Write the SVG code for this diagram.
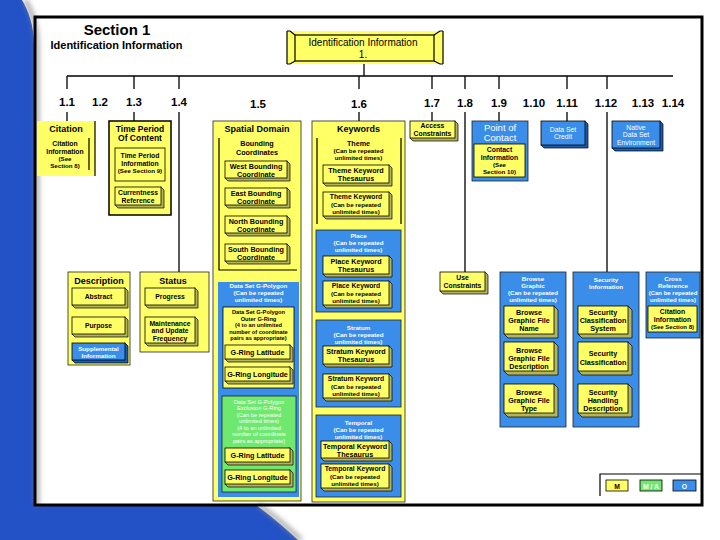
<svg xmlns="http://www.w3.org/2000/svg" width="720" height="540" viewBox="0 0 720 540">
<defs>
<filter id="blur" x="-20%" y="-20%" width="140%" height="140%"><feGaussianBlur stdDeviation="2.5"/></filter>
</defs>
<style>
.y{fill:#FFFF66}
.b{fill:#3A8EEA}
.g{fill:#6EE86E}
.bx{stroke:#222;stroke-width:0.8}
.ln{stroke:#000;stroke-width:1.2;fill:none}
.sy{fill:#B4B45A;stroke:#000;stroke-width:0.7}
.sb{fill:#1E5CB0;stroke:#000;stroke-width:0.7}
.fy{fill:#FFFF66;stroke:#000;stroke-width:0.8}
.fb{fill:#3A8EEA;stroke:#000;stroke-width:0.8}
.c{stroke:#000;stroke-width:1.3;fill:none}
text{font-family:"Liberation Sans",Arial,Helvetica,sans-serif;font-weight:bold;text-anchor:middle;fill:#000}
.s9{font-size:9px}
.s75{font-size:7.2px}
.s7{font-size:6.8px}
.s65{font-size:6.2px}
.s6{font-size:5.7px}
.w{fill:#fff}
.nw{font-weight:normal}
</style>
<g id="background">
<rect width="720" height="540" fill="#2352C6"/>
<path d="M22,0 H720 V540 H298 C285,528 270,515 256,505 H34 V45 C34,25 28,10 22,0 Z" fill="#fff"/>
<path d="M25,0 C31,10 37,25 37,45 V505 M259,505 C273,515 288,528 301,540" stroke="#8a8a8a" stroke-width="5" fill="none" filter="url(#blur)" opacity="0.7"/>
<rect x="35" y="17" width="667" height="488" fill="none" stroke="#000" stroke-width="3"/>
</g>
<g id="title">
<text x="117" y="35" style="font-size:15px">Section 1</text>
<text x="116.5" y="49" style="font-size:11px">Identification Information</text>
</g>
<g id="connectors">
<path class="c" d="M364,61 V76 M67,76 H673 M67,76 V89 M134,76 V89 M179,76 V89 M359,76 V89 M432,76 V89 M465,76 V89 M499,76 V89 M567,76 V89 M607,76 V89"/>
<path class="c" d="M67,112 V121 M134,112 V121 M359,112 V121 M432,112 V121 M499,112 V121 M567,112 V121 M179,112 V272 M465,112 V272 M607,112 V272"/>
</g>
<g id="labels" style="font-size:11.5px">
<text x="67" y="106">1.1</text>
<text x="100" y="106">1.2</text>
<text x="134" y="106">1.3</text>
<text x="179" y="106">1.4</text>
<text x="258" y="107.5">1.5</text>
<text x="359" y="107.5">1.6</text>
<text x="432" y="106.5">1.7</text>
<text x="465" y="106.5">1.8</text>
<text x="499" y="106.5">1.9</text>
<text x="534" y="106.5">1.10</text>
<text x="567" y="106.5">1.11</text>
<text x="606" y="106.5">1.12</text>
<text x="643" y="106.5">1.13</text>
<text x="673" y="106.5">1.14</text>
</g>
<g id="n1">
<rect x="287" y="31" width="156" height="33" class="y"/>
<path class="ln" d="M287,31 V64 M443,31 V64 M287,31 h3 l5,4 M287,64 h3 l5,-3 M443,31 h-3 l-6,4 M443,64 h-3 l-6,-3"/>
<rect x="295" y="35" width="139" height="26" class="y" stroke="#000" stroke-width="1.2"/>
<text x="363" y="46" class="nw" style="font-size:10px">Identification Information</text>
<text x="363" y="57.5" class="nw" style="font-size:10px">1.</text>
</g>
<g id="n1_1">
<rect x="37" y="121" width="58" height="55" class="y"/>
<path class="ln" d="M95,121 V176 M89,138 V170"/>
<text x="66" y="132" class="s9">Citation</text>
<text x="65" y="146" class="s7">Citation</text>
<text x="65" y="153.5" class="s7">Information</text>
<text x="65" y="160.5" class="s65">(See</text>
<text x="65" y="167.5" class="s65">Section 8)</text>
</g>
<g id="n1_3">
<rect x="109" y="121" width="62" height="94" class="y" stroke="#000" stroke-width="1.5"/>
<text x="140" y="131.5" style="font-size:8.5px">Time Period</text>
<text x="140" y="141" style="font-size:8.5px">Of Content</text>
<rect x="115" y="148" width="50" height="33" class="fy"/>
<text x="140" y="158" class="s7">Time Period</text>
<text x="140" y="165.5" class="s7">Information</text>
<text x="140" y="173" class="s65">(See Section 9)</text>
<path class="sy" d="M161,187 l3,3 v18 h-46 l-3,-3 z"/>
<rect x="115" y="187" width="46" height="18" class="fy"/>
<text x="138" y="195" class="s7">Currentness</text>
<text x="138" y="203" class="s7">Reference</text>
</g>
<g id="n1_5">
<rect x="213" y="121" width="88" height="380" class="y bx"/>
<text x="257" y="132" class="s9">Spatial Domain</text>
<path class="ln" d="M219,138 V270 H297"/>
<text x="257" y="146" class="s75">Bounding</text>
<text x="257" y="155" class="s75">Coordinates</text>
<path class="sy" d="M287,161 l3,3 v17 h-62 l-3,-3 z"/>
<rect x="225" y="161" width="62" height="17" class="fy"/>
<text x="256" y="168.5" class="s75">West Bounding</text>
<text x="256" y="176.5" class="s75">Coordinate</text>
<path class="sy" d="M287,188 l3,3 v17 h-62 l-3,-3 z"/>
<rect x="225" y="188" width="62" height="17" class="fy"/>
<text x="256" y="195.5" class="s75">East Bounding</text>
<text x="256" y="203.5" class="s75">Coordinate</text>
<path class="sy" d="M287,216 l3,3 v17 h-62 l-3,-3 z"/>
<rect x="225" y="216" width="62" height="17" class="fy"/>
<text x="256" y="223.5" class="s75">North Bounding</text>
<text x="256" y="231.5" class="s75">Coordinate</text>
<path class="sy" d="M287,244 l3,3 v17 h-62 l-3,-3 z"/>
<rect x="225" y="244" width="62" height="17" class="fy"/>
<text x="256" y="251.5" class="s75">South Bounding</text>
<text x="256" y="259.5" class="s75">Coordinate</text>
</g>
<g id="gpolygon">
<rect x="218" y="282" width="81" height="215" class="b"/>
<text x="258.5" y="288" class="s65 w">Data Set G-Polygon</text>
<text x="258.5" y="295" class="s65 w">(Can be repeated</text>
<text x="258.5" y="302" class="s65 w">unlimited times)</text>
</g>
<g id="outer_gring">
<rect x="223" y="307" width="71" height="81" class="fy"/>
<text x="258.5" y="314" class="s6">Data Set G-Polygon</text>
<text x="258.5" y="320.5" class="s6">Outer G-Ring</text>
<text x="258.5" y="327" class="s6">(4 to an unlimited</text>
<text x="258.5" y="333.5" class="s6">number of coordinate</text>
<text x="258.5" y="340" class="s6">pairs as appropriate)</text>
<path class="sy" d="M290,345 l3,3 v14 h-65 l-3,-3 z"/>
<rect x="225" y="345" width="65" height="14" class="fy"/>
<text x="257.5" y="354.5" class="s75">G-Ring Latitude</text>
<path class="sy" d="M290,367 l3,3 v14 h-65 l-3,-3 z"/>
<rect x="225" y="367" width="65" height="14" class="fy"/>
<text x="257.5" y="376.5" class="s75">G-Ring Longitude</text>
</g>
<g id="exclusion_gring">
<rect x="222" y="396" width="74" height="96" class="g bx"/>
<text x="259" y="403.5" class="s6 w nw">Data Set G-Polygon</text>
<text x="259" y="410" class="s6 w nw">Exclusion G-Ring</text>
<text x="259" y="416.5" class="s6 w nw">(Can be repeated</text>
<text x="259" y="423" class="s6 w nw">unlimited times)</text>
<text x="259" y="429.5" class="s6 w nw">(4 to an unlimited</text>
<text x="259" y="436" class="s6 w nw">number of coordinate</text>
<text x="259" y="442.5" class="s6 w nw">pairs as appropriate)</text>
<path class="sy" d="M290,448 l3,3 v14 h-65 l-3,-3 z"/>
<rect x="225" y="448" width="65" height="14" class="fy"/>
<text x="257.5" y="457.5" class="s75">G-Ring Latitude</text>
<path class="sy" d="M290,470 l3,3 v14 h-65 l-3,-3 z"/>
<rect x="225" y="470" width="65" height="14" class="fy"/>
<text x="257.5" y="479.5" class="s75">G-Ring Longitude</text>
</g>
<g id="n1_6">
<rect x="312" y="121" width="93" height="381" class="y bx"/>
<text x="358.5" y="132" class="s9">Keywords</text>
<path class="ln" d="M317,138 V224 M401,138 V224"/>
<text x="358.5" y="145.5" class="s75">Theme</text>
<text x="358.5" y="152.5" class="s65">(Can be repeated</text>
<text x="358.5" y="159.5" class="s65">unlimited times)</text>
<path class="sy" d="M389,165 l3,3 v18 h-66 l-3,-3 z"/>
<rect x="323" y="165" width="66" height="18" class="fy"/>
<text x="356" y="172.5" class="s75">Theme Keyword</text>
<text x="356" y="180.5" class="s75">Thesaurus</text>
<path class="sy" d="M389,192 l3,3 v24 h-66 l-3,-3 z"/>
<rect x="323" y="192" width="66" height="24" class="fy"/>
<text x="356" y="199" class="s7">Theme Keyword</text>
<text x="356" y="206.5" class="s65">(Can be repeated</text>
<text x="356" y="213.5" class="s65">unlimited times)</text>
</g>
<g id="place">
<rect x="316" y="230" width="85" height="82" class="b bx"/>
<text x="358.5" y="238" class="s65 w">Place</text>
<text x="358.5" y="245" class="s65 w">(Can be repeated</text>
<text x="358.5" y="252" class="s65 w">unlimited times)</text>
<path class="sy" d="M389,256 l3,3 v18 h-66 l-3,-3 z"/>
<rect x="323" y="256" width="66" height="18" class="fy"/>
<text x="356" y="263.5" class="s75">Place Keyword</text>
<text x="356" y="271.5" class="s75">Thesaurus</text>
<path class="sy" d="M389,281 l3,3 v24 h-66 l-3,-3 z"/>
<rect x="323" y="281" width="66" height="24" class="fy"/>
<text x="356" y="288" class="s7">Place Keyword</text>
<text x="356" y="295.5" class="s65">(Can be repeated</text>
<text x="356" y="302.5" class="s65">unlimited times)</text>
</g>
<g id="stratum">
<rect x="316" y="320" width="85" height="87" class="b bx"/>
<text x="358.5" y="329.5" class="s65 w">Stratum</text>
<text x="358.5" y="336.5" class="s65 w">(Can be repeated</text>
<text x="358.5" y="343.5" class="s65 w">unlimited times)</text>
<path class="sy" d="M389,346 l3,3 v18 h-66 l-3,-3 z"/>
<rect x="323" y="346" width="66" height="18" class="fy"/>
<text x="356" y="353.5" class="s75">Stratum Keyword</text>
<text x="356" y="361.5" class="s75">Thesaurus</text>
<path class="sy" d="M389,374 l3,3 v24 h-66 l-3,-3 z"/>
<rect x="323" y="374" width="66" height="24" class="fy"/>
<text x="356" y="381" class="s7">Stratum Keyword</text>
<text x="356" y="388.5" class="s65">(Can be repeated</text>
<text x="356" y="395.5" class="s65">unlimited times)</text>
</g>
<g id="temporal">
<rect x="316" y="415" width="85" height="82" class="b bx"/>
<text x="358.5" y="424.5" class="s65 w">Temporal</text>
<text x="358.5" y="431.5" class="s65 w">(Can be repeated</text>
<text x="358.5" y="438.5" class="s65 w">unlimited times)</text>
<path class="sy" d="M389,441 l3,3 v17 h-68 l-3,-3 z"/>
<rect x="321" y="441" width="68" height="17" class="fy"/>
<text x="355" y="448.5" class="s75">Temporal Keyword</text>
<text x="355" y="456.5" class="s75">Thesaurus</text>
<path class="sy" d="M389,464 l3,3 v24 h-68 l-3,-3 z"/>
<rect x="321" y="464" width="68" height="24" class="fy"/>
<text x="355" y="471" class="s7">Temporal Keyword</text>
<text x="355" y="478.5" class="s65">(Can be repeated</text>
<text x="355" y="485.5" class="s65">unlimited times)</text>
</g>
<g id="n1_7">
<path class="sy" d="M455,121 l3,3 v17 h-45 l-3,-3 z"/>
<rect x="410" y="121" width="45" height="17" class="fy"/>
<text x="432.5" y="128" class="s7">Access</text>
<text x="432.5" y="135.5" class="s7">Constraints</text>
</g>
<g id="n1_9">
<rect x="472" y="121" width="56" height="60" class="b bx"/>
<text x="500" y="131" class="w nw" style="font-size:9.5px">Point of</text>
<text x="500" y="141" class="w nw" style="font-size:9.5px">Contact</text>
<rect x="474" y="144" width="51" height="33" class="fy"/>
<text x="499.5" y="152" class="s7">Contact</text>
<text x="499.5" y="159.5" class="s7">Information</text>
<text x="499.5" y="166.5" class="s65">(See</text>
<text x="499.5" y="173.5" class="s65">Section 10)</text>
</g>
<g id="n1_11">
<path class="sb" d="M585,121 l3,3 v24 h-44 l-3,-3 z"/>
<rect x="541" y="121" width="44" height="24" class="fb"/>
<text x="563" y="131.5" class="s7 w nw">Data Set</text>
<text x="563" y="139" class="s7 w nw">Credit</text>
</g>
<g id="n1_13">
<path class="sb" d="M660,121 l3,3 v27 h-48 l-3,-3 z"/>
<rect x="612" y="121" width="48" height="27" class="fb"/>
<text x="636" y="129.5" class="s7 w nw">Native</text>
<text x="636" y="137" class="s7 w nw">Data Set</text>
<text x="636" y="144.5" class="s7 w nw">Environment</text>
</g>
<g id="n1_2">
<rect x="68" y="272" width="62" height="93" class="y bx"/>
<text x="99" y="283.5" class="s9">Description</text>
<path class="sy" d="M125,288 l3,3 v17 h-53 l-3,-3 z"/>
<rect x="72" y="288" width="53" height="17" class="fy"/>
<text x="98.5" y="299" class="s7">Abstract</text>
<path class="sy" d="M125,317 l3,3 v17 h-53 l-3,-3 z"/>
<rect x="72" y="317" width="53" height="17" class="fy"/>
<text x="98.5" y="328" class="s7">Purpose</text>
<path class="sb" d="M125,343 l3,3 v17 h-53 l-3,-3 z"/>
<rect x="72" y="343" width="53" height="17" class="fb"/>
<text x="98.5" y="351" class="s65 w">Supplemental</text>
<text x="98.5" y="358" class="s65 w">Information</text>
</g>
<g id="n1_4">
<rect x="140" y="272" width="69" height="80" class="y bx"/>
<text x="173" y="283.5" class="s9">Status</text>
<path class="sy" d="M195,288 l3,3 v17 h-50 l-3,-3 z"/>
<rect x="145" y="288" width="50" height="17" class="fy"/>
<text x="170" y="299" class="s7">Progress</text>
<path class="sy" d="M195,317 l3,3 v26 h-50 l-3,-3 z"/>
<rect x="145" y="317" width="50" height="26" class="fy"/>
<text x="170" y="325.5" class="s7">Maintenance</text>
<text x="170" y="333" class="s7">and Update</text>
<text x="170" y="340.5" class="s7">Frequency</text>
</g>
<g id="n1_8">
<path class="sy" d="M485,272 l3,3 v19 h-45 l-3,-3 z"/>
<rect x="440" y="272" width="45" height="19" class="fy"/>
<text x="462.5" y="280" class="s7">Use</text>
<text x="462.5" y="288" class="s7">Constraints</text>
</g>
<g id="browse_graphic">
<rect x="500" y="272" width="66" height="155" class="b bx"/>
<text x="533" y="280.5" class="s65 w">Browse</text>
<text x="533" y="287.5" class="s65 w">Graphic</text>
<text x="533" y="294.5" class="s65 w">(Can be repeated</text>
<text x="533" y="301.5" class="s65 w">unlimited times)</text>
<path class="sy" d="M554,306 l4,4 v28 h-50 l-4,-4 z"/>
<rect x="504" y="306" width="50" height="28" class="fy"/>
<text x="529" y="315" class="s75">Browse</text>
<text x="529" y="323" class="s75">Graphic File</text>
<text x="529" y="331" class="s75">Name</text>
<path class="sy" d="M554,342 l4,4 v29 h-50 l-4,-4 z"/>
<rect x="504" y="342" width="50" height="29" class="fy"/>
<text x="529" y="352.5" class="s75">Browse</text>
<text x="529" y="360.5" class="s75">Graphic File</text>
<text x="529" y="368.5" class="s75">Description</text>
<path class="sy" d="M554,384 l4,4 v29 h-50 l-4,-4 z"/>
<rect x="504" y="384" width="50" height="29" class="fy"/>
<text x="529" y="394.5" class="s75">Browse</text>
<text x="529" y="402.5" class="s75">Graphic File</text>
<text x="529" y="410.5" class="s75">Type</text>
</g>
<g id="security_information">
<rect x="573" y="272" width="66" height="155" class="b bx"/>
<text x="606" y="281.5" class="s65 w">Security</text>
<text x="606" y="288.5" class="s65 w">Information</text>
<path class="sy" d="M628,306 l4,4 v28 h-50 l-4,-4 z"/>
<rect x="578" y="306" width="50" height="28" class="fy"/>
<text x="603" y="315" class="s75">Security</text>
<text x="603" y="323" class="s75">Classification</text>
<text x="603" y="331" class="s75">System</text>
<path class="sy" d="M628,342 l4,4 v29 h-50 l-4,-4 z"/>
<rect x="578" y="342" width="50" height="29" class="fy"/>
<text x="603" y="356" class="s75">Security</text>
<text x="603" y="364.5" class="s75">Classification</text>
<path class="sy" d="M628,384 l4,4 v29 h-50 l-4,-4 z"/>
<rect x="578" y="384" width="50" height="29" class="fy"/>
<text x="603" y="394.5" class="s75">Security</text>
<text x="603" y="402.5" class="s75">Handling</text>
<text x="603" y="410.5" class="s75">Description</text>
</g>
<g id="cross_reference">
<rect x="646" y="272" width="54" height="66" class="b bx"/>
<text x="673" y="280.5" class="s65 w">Cross</text>
<text x="673" y="287.5" class="s65 w">Reference</text>
<text x="673" y="294.5" class="w" style="font-size:6px">(Can be repeated</text>
<text x="673" y="301.5" class="w" style="font-size:6px">unlimited times)</text>
<rect x="648" y="306" width="49" height="26" class="fy"/>
<text x="672.5" y="314" class="s7">Citation</text>
<text x="672.5" y="321.5" class="s7">Information</text>
<text x="672.5" y="329" style="font-size:6px">(See Section 8)</text>
</g>
<g id="legend">
<path class="ln" d="M600,496 V474 H702"/>
<rect x="606" y="480" width="22" height="11" class="fy"/>
<text x="617" y="488.5" class="s7">M</text>
<rect x="640" y="480" width="22" height="11" class="g" stroke="#000" stroke-width="0.8"/>
<text x="651" y="488.5" class="s7 w">M / A</text>
<rect x="673" y="480" width="23" height="11" class="fb"/>
<text x="684.5" y="488.5" class="s7 w">O</text>
</g>
</svg>
